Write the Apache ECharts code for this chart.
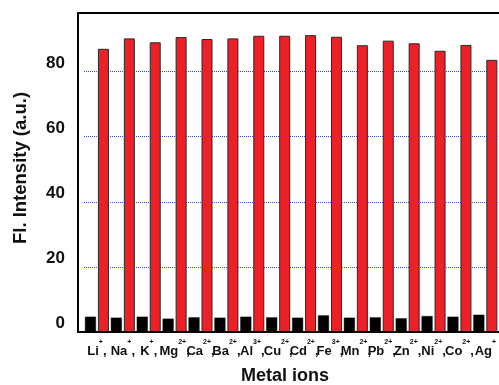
<!DOCTYPE html>
<html>
<head>
<meta charset="utf-8">
<script src="https://cdn.jsdelivr.net/npm/echarts@6/dist/echarts.min.js"></script>
<style>
html,body{margin:0;padding:0;background:#fff;}
#c{width:499px;height:385px;}
</style>
</head>
<body>
<div id="c"></div>
<script>
// Data
var ions = ['Li','Na','K','Mg','Ca','Ba','Al','Cu','Cd','Fe','Mn','Pb','Zn','Ni','Co','Ag'];
var charges = ['+','+','+','2+','2+','2+','3+','2+','2+','3+','2+','2+','2+','2+','2+','+'];
var blankValues = [4.7,4.4,4.7,4.1,4.5,4.4,4.7,4.5,4.4,5.1,4.4,4.5,4.2,4.9,4.7,5.3];
var ionValues = [87.0,90.2,89.0,90.6,90.0,90.2,91.0,91.0,91.2,90.7,88.1,89.5,88.7,86.4,88.2,83.6];
var yTicks = [0,20,40,60,80];

var chart = echarts.init(document.getElementById('c'), null, {renderer:'canvas'});
var FONT = '"Liberation Sans", Arial, sans-serif';
var frameLine = {show: true, lineStyle: {color: '#000', width: 2}};

var option = {
  animation: false,
  backgroundColor: '#fff',
  grid: [
    {left: 84, right: -1, top: 13, bottom: 53, show: false},
    {left: 78, right: -20, top: 13, bottom: 53, show: false}
  ],
  xAxis: [
    {
      type: 'category', gridIndex: 0, data: ions,
      axisLine: {show: false}, axisTick: {show: false},
      axisLabel: {
        margin: 7, interval: 0,
        formatter: function (v, i) {
          return '{b|' + v + '}{s|' + charges[i] + '}' + (i < ions.length - 1 ? '{b|,}' : '');
        },
        rich: {
          b: {fontFamily: FONT, fontWeight: 'bold', fontSize: 13, color: '#111', lineHeight: 19, verticalAlign: 'bottom'},
          s: {fontFamily: FONT, fontWeight: 'bold', fontSize: 7, color: '#111', lineHeight: 19, verticalAlign: 'top'}
        }
      }
    },
    {type: 'value', gridIndex: 1, position: 'bottom', axisLine: frameLine, axisTick: {show: false}, axisLabel: {show: false}, splitLine: {show: false}, z: 5},
    {type: 'value', gridIndex: 1, position: 'top', axisLine: frameLine, axisTick: {show: false}, axisLabel: {show: false}, splitLine: {show: false}, z: 5}
  ],
  yAxis: [
    {
      type: 'value', gridIndex: 0, min: 0, max: 98, interval: 20, offset: 6,
      axisLine: {show: false}, axisTick: {show: false},
      axisLabel: {
        margin: 13, fontFamily: FONT, fontWeight: 'bold', fontSize: 17, color: '#111',
        verticalAlign: 'bottom',
        formatter: function (v) { return yTicks.indexOf(v) >= 0 ? String(v) : ''; }
      },
      splitLine: {show: true, lineStyle: {color: '#3b4fb8', type: 'dotted', width: 1}}
    },
    {type: 'value', gridIndex: 1, position: 'left', axisLine: frameLine, axisTick: {show: false}, axisLabel: {show: false}, splitLine: {show: false}, z: 5}
  ],
  series: [
    {
      type: 'bar', xAxisIndex: 0, yAxisIndex: 0, data: blankValues,
      barWidth: 11, barGap: '18%',
      itemStyle: {color: '#000', borderColor: '#000', borderWidth: 0.5},
      z: 3
    },
    {
      type: 'bar', xAxisIndex: 0, yAxisIndex: 0, data: ionValues,
      barWidth: 11, barGap: '18%',
      itemStyle: {color: '#ed1f27', borderColor: '#2a2a2a', borderWidth: 1},
      z: 3
    }
  ],
  graphic: [
    {
      type: 'text', x: 21, y: 168, rotation: Math.PI / 2,
      style: {text: 'Fl. Intensity (a.u.)', font: 'bold 18.5px ' + FONT, fill: '#111', align: 'center', verticalAlign: 'middle'}
    },
    {
      type: 'text', x: 285, y: 376,
      style: {text: 'Metal ions', font: 'bold 18px ' + FONT, fill: '#111', align: 'center', verticalAlign: 'middle'}
    }
  ]
};
chart.setOption(option);
</script>
</body>
</html>
